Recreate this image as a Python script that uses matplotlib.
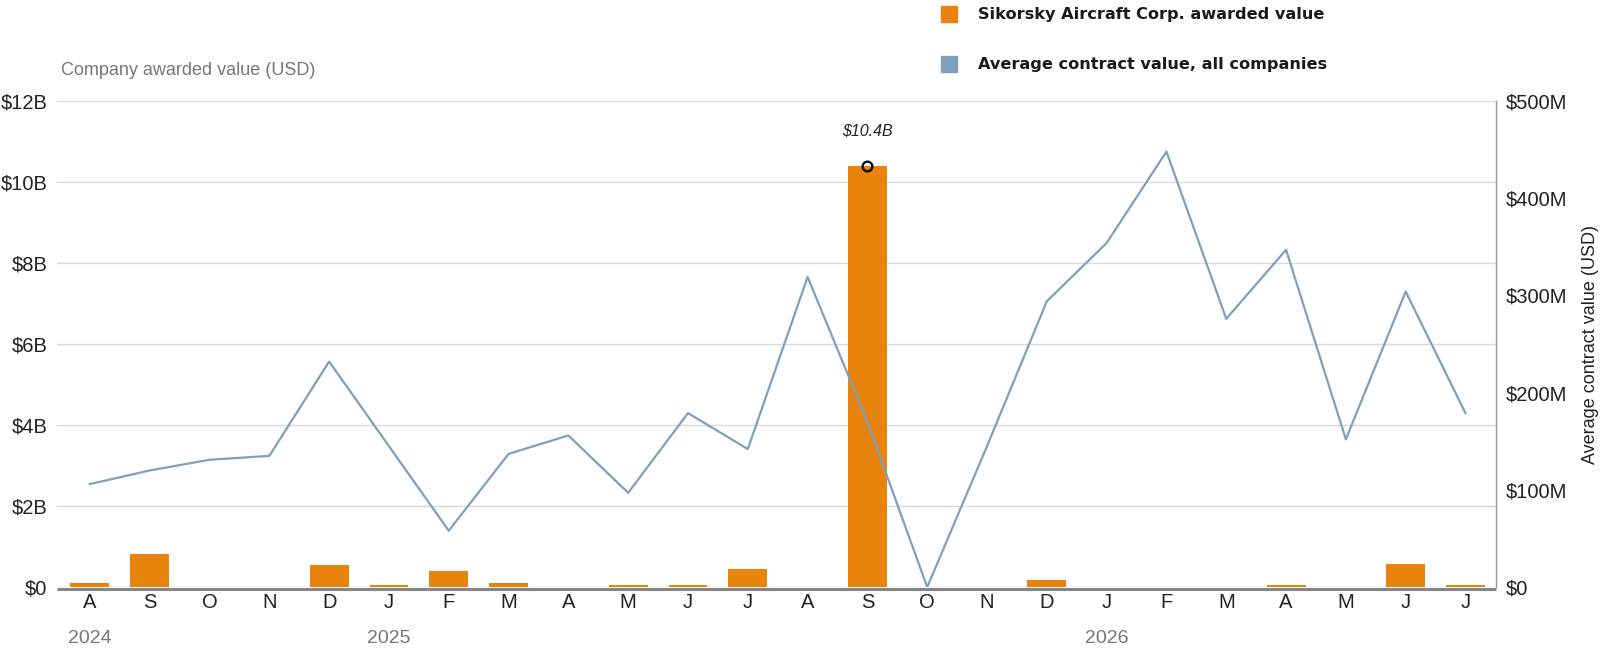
import matplotlib
matplotlib.use("Agg")
import matplotlib.pyplot as plt
from matplotlib.patches import Rectangle
from matplotlib.ticker import FuncFormatter, MultipleLocator
from matplotlib.transforms import blended_transform_factory, offset_copy

# monthly data, Aug 2024 .. Jul 2026
months = ['A', 'S', 'O', 'N', 'D', 'J', 'F', 'M', 'A', 'M', 'J', 'J',
          'A', 'S', 'O', 'N', 'D', 'J', 'F', 'M', 'A', 'M', 'J', 'J']
company_bn = [0.11, 0.82, 0, 0, 0.54, 0.06, 0.40, 0.11, 0, 0.06, 0.04, 0.44,
              0, 10.4, 0, 0, 0.18, 0, 0, 0, 0.06, 0, 0.57, 0.06]
avg_m = [106, 120, 131, 135, 232, 145, 58, 137, 156, 97, 179, 142,
         319, 170, 0, 145, 294, 354, 448, 276, 347, 152, 304, 179]
years = ['2024', '2025', '2026']
year_idx = [0, 5, 17]
peak_idx = 13
peak_label = '$10.4B'

orange = '#e8830c'
blue = '#7f9fbd'

plt.rcParams['font.family'] = ['Liberation Sans', 'DejaVu Sans']

fig = plt.figure(figsize=(16.06, 6.56), dpi=100)
ax = fig.add_axes([0.0355, 0.105, 0.896, 0.741])
ax2 = ax.twinx()

x = list(range(len(months)))
ax.bar(x, company_bn, width=0.65, color=orange, zorder=2)
# thick baseline sitting just under zero
base_tr = offset_copy(ax.get_yaxis_transform(), fig=fig, y=-1.1, units='points')
ax.plot([0, 1], [0, 0], transform=base_tr, color='#858585', lw=2.2,
        zorder=3, solid_capstyle='butt', clip_on=False)
ax.plot(peak_idx, company_bn[peak_idx], 'o', mfc='none', mec='black',
        ms=7, mew=1.6, zorder=4)
ax.annotate(peak_label, (peak_idx, company_bn[peak_idx]), xytext=(0, 25),
            textcoords='offset points', ha='center', va='center',
            fontsize=11.5, style='italic', color='#222222')

ax2.plot(x, avg_m, color=blue, lw=1.6, zorder=3)

ax.set_xlim(-0.55, 23.51)
ax.set_ylim(0, 12)
ax2.set_ylim(0, 500)
ax.yaxis.set_major_locator(MultipleLocator(2))
ax2.yaxis.set_major_locator(MultipleLocator(100))
ax.yaxis.set_major_formatter(FuncFormatter(lambda v, p: '$0' if v == 0 else f'${v:.0f}B'))
ax2.yaxis.set_major_formatter(FuncFormatter(lambda v, p: '$0' if v == 0 else f'${v:.0f}M'))

ax.set_xticks(x)
ax.set_xticklabels(months)
ax.grid(axis='y', color='#d9d9d9', lw=1)
ax.set_axisbelow(True)

for a in (ax, ax2):
    for s in ('top', 'left', 'bottom'):
        a.spines[s].set_visible(False)
ax.spines['right'].set_visible(False)
ax2.spines['right'].set_color('#999999')
ax2.spines['right'].set_linewidth(1)

ax.tick_params(axis='x', length=0, pad=4, labelsize=14.5, labelcolor='#222222')
ax.tick_params(axis='y', length=0, pad=7, labelsize=14.5, labelcolor='#222222')
ax2.tick_params(axis='y', length=0, pad=7, labelsize=14.5, labelcolor='#222222')

ax2.set_ylabel('Average contract value (USD)', fontsize=13, color='#222222',
               labelpad=11)
ax.text(0.003, 1.062, 'Company awarded value (USD)', transform=ax.transAxes,
        fontsize=13, color='#777777', ha='left', va='center')

trans = blended_transform_factory(ax.transData, ax.transAxes)
for yr, i in zip(years, year_idx):
    ax.text(i, -0.105, yr, transform=trans, ha='center', va='center',
            fontsize=14, color='#777777')

# legend at the top, drawn by hand
W, H = 1606, 656
leg = [('Sikorsky Aircraft Corp. awarded value', orange, 14),
       ('Average contract value, all companies', blue, 64)]
for label, col, yc in leg:
    fig.patches.append(Rectangle((941 / W, 1 - (yc + 8) / H), 16 / W, 16 / H,
                                 transform=fig.transFigure, color=col))
    fig.text(978 / W, 1 - yc / H, label, fontsize=11.6, fontweight='bold',
             family=['DejaVu Sans'], color='#1a1a1a', ha='left', va='center')

fig.savefig('out.png', dpi=100)
